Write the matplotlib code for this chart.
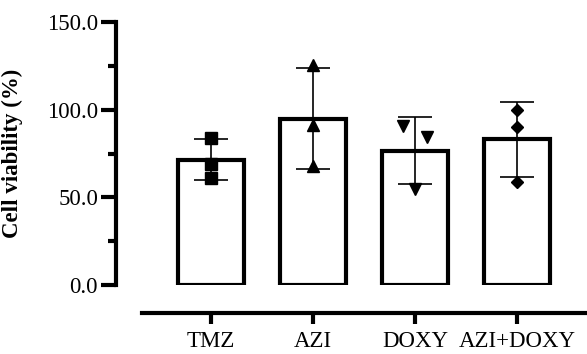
import matplotlib
matplotlib.use("Agg")
import matplotlib.pyplot as plt
import numpy as np

categories = ["TMZ", "AZI", "DOXY", "AZI+DOXY"]
tmz = [84.0, 69.0, 61.0]
azi = [125.5, 91.0, 68.0]
doxy = [90.5, 84.5, 55.0]
azi_doxy = [100.0, 90.0, 59.0]
yticks = [0, 50, 100, 150]

groups = [tmz, azi, doxy, azi_doxy]
markers = ["s", "^", "v", "D"]
marker_sizes = [8, 8, 8, 6.5]
jitter = [[0, 0, 0], [0, 0, 0], [-0.115, 0.115, 0], [0, 0, 0]]

plt.rcParams["font.family"] = ["Liberation Serif", "DejaVu Serif"]
plt.rcParams["font.size"] = 16.5

fig = plt.figure(figsize=(5.87, 3.54), dpi=100)
ax = fig.add_axes([116 / 587, 69 / 354, 471 / 587, 263 / 354])

x = np.arange(len(categories))
means = [np.mean(g) for g in groups]
sds = [np.std(g, ddof=1) for g in groups]

ax.bar(x, means, width=0.64, facecolor="white", edgecolor="black", linewidth=3, zorder=1)
ax.errorbar(x, means, yerr=sds, fmt="none", ecolor="black", elinewidth=1.2,
            capsize=12, capthick=1.2, zorder=2)
for i, g in enumerate(groups):
    ax.plot(x[i] + np.array(jitter[i]), g, linestyle="none", marker=markers[i],
            markersize=marker_sizes[i], color="black", zorder=3)

ax.set_xlim(-0.931, 3.686)
ax.set_ylim(0, 150)
ax.set_yticks(yticks)
ax.set_yticklabels([f"{v:.1f}" for v in yticks])
ax.set_yticks([25, 75, 125], minor=True)
ax.set_xticks(x)
ax.set_xticklabels(categories)

for side in ["top", "right"]:
    ax.spines[side].set_visible(False)
ax.spines["left"].set_linewidth(3)
ax.spines["left"].set_bounds(0, 150)
ax.spines["bottom"].set_linewidth(3)
ax.spines["bottom"].set_position(("outward", 20))
ax.spines["bottom"].set_bounds(-0.676, 3.686)

ax.tick_params(axis="y", which="major", length=11, width=3, pad=2)
ax.tick_params(axis="y", which="minor", length=5.5, width=3)
ax.tick_params(axis="x", which="major", length=8, width=3, pad=5)

ax.set_ylabel("Cell viability (%)", fontweight="bold")
ax.yaxis.set_label_coords(-0.197, 0.5)

fig.savefig("out.png", dpi=100)
